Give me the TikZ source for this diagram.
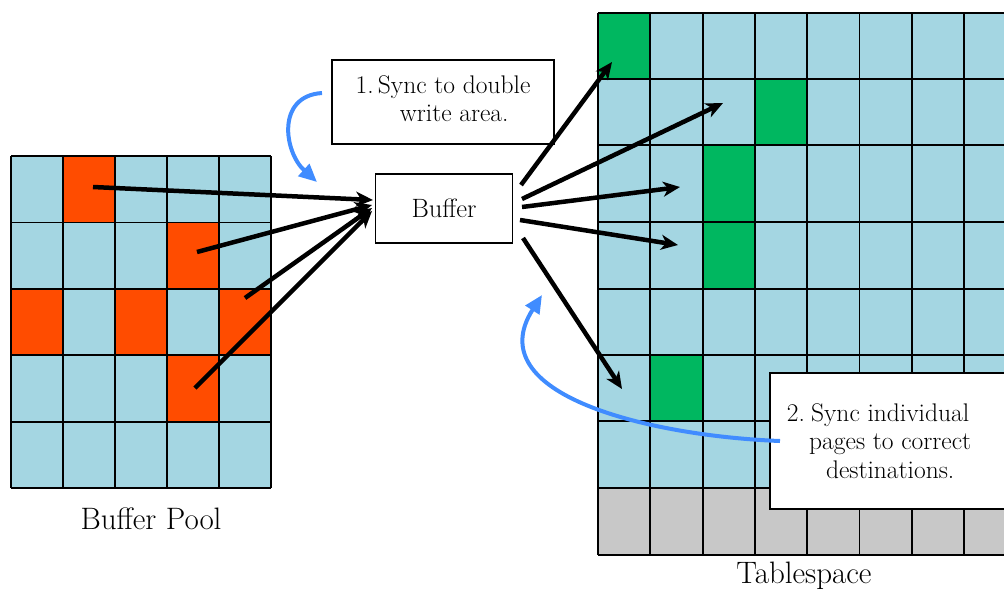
\documentclass[tikz,border=0pt]{standalone}
\usepackage{fontspec}
\usetikzlibrary{arrows.meta}
\definecolor{cellblue}{RGB}{164,214,226}
\definecolor{cellorange}{RGB}{255,76,0}
\definecolor{cellgreen}{RGB}{0,183,96}
\definecolor{cellgray}{RGB}{200,200,200}
\definecolor{curveblue}{RGB}{64,140,255}
\begin{document}
\begin{tikzpicture}[x=1pt,y=-1pt,
  gridline/.style={black,line width=1.8pt},
  blk/.style={line width=4.5pt,-{Stealth[length=17pt,width=15pt,inset=5pt]}},
  blu/.style={draw=curveblue,line width=4pt,-{Triangle[length=18pt,width=16pt]}},
  callout/.style={draw=black,line width=1.2pt,fill=white,inner sep=0pt},
  boxtext/.style={font=\fontsize{25.5}{28.5}\selectfont},
  labeltext/.style={font=\fontsize{31}{36}\selectfont}]
\useasboundingbox (0,0) rectangle (1004,590);
% Buffer pool grid
\fill[cellblue] (11,156) rectangle (271,488);
\foreach \c/\r in {1/0,3/1,0/2,2/2,4/2,3/3}
  \fill[cellorange] ({11+52*\c},{156+66.4*\r}) rectangle ++(52,66.4);
\foreach \i in {0,...,5} \draw[gridline] ({11+52*\i},156) -- ({11+52*\i},488);
\foreach \j in {0,...,5} \draw[gridline] (11,{156+66.4*\j}) -- (271,{156+66.4*\j});
\node[labeltext] (bplabel) at (151,519) {Buffer Pool};
% Tablespace grid
\fill[cellblue] (598,13) rectangle (1016,488);
\fill[cellgray] (598,488) rectangle (1016,555);
\fill[cellgreen] (598,13) rectangle (650.5,79);
\fill[cellgreen] (755,79) rectangle (807,145);
\fill[cellgreen] (702.5,145) rectangle (755,289);
\fill[cellgreen] (650.5,355) rectangle (702.5,421);
\foreach \i in {0,...,8} \draw[gridline] ({598+52.3*\i},13) -- ({598+52.3*\i},555);
\foreach \y in {13,79,145,222,289,355,421,488,555} \draw[gridline] (598,\y) -- (1016,\y);
\node[labeltext] (tslabel) at (804,576) {Tablespace};
% Buffer
\node[callout,boxtext,minimum width=137pt,minimum height=69pt,font=\fontsize{26.5}{30}\selectfont] (buf) at (444,208.5) {Buffer};
% Note 1
\node[callout,boxtext,minimum width=222pt,minimum height=84pt] (note1) at (443,102)
  {\begin{tabular}{@{}r@{\,}c@{}}1. & Sync to double\\ & write area.\end{tabular}};
% Note 2
\draw[callout] (770,373) rectangle (1020,509);
\node[boxtext,inner sep=0pt] (note2) at (879,444)
  {\begin{tabular}{@{}r@{\,}c@{}}2. & Sync individual\\ & pages to correct\\ & destinations.\end{tabular}};
% coordinates for arrows
\coordinate (s1) at (93,187);  \coordinate (e1) at (373,200);
\coordinate (s2) at (197,252); \coordinate (e2) at (372,205);
\coordinate (s3) at (245,298); \coordinate (e3) at (372,208);
\coordinate (s4) at (195,388); \coordinate (e4) at (372,211);
\draw[blk] (s1) -- (e1);
\draw[blk] (s2) -- (e2);
\draw[blk] (s3) -- (e3);
\draw[blk] (s4) -- (e4);
\coordinate (r1) at (521,185); \coordinate (t1) at (612,62);
\coordinate (r2) at (522,199); \coordinate (t2) at (723,103);
\coordinate (r3) at (522,207); \coordinate (t3) at (680,187);
\coordinate (r4) at (520,220); \coordinate (t4) at (678,245);
\coordinate (r5) at (523,238); \coordinate (t5) at (622,389);
\draw[blk] (r1) -- (t1);
\draw[blk] (r2) -- (t2);
\draw[blk] (r3) -- (t3);
\draw[blk] (r4) -- (t4);
\draw[blk] (r5) -- (t5);
% blue curves
\coordinate (c1s) at (322,93); \coordinate (c1e) at (317,182);
\draw[blu] (c1s) .. controls (276,96) and (284,152) .. (c1e);
\coordinate (c2s) at (780,441); \coordinate (c2e) at (542,295);
\draw[blu] (c2s) .. controls (650,436) and (478,395) .. (c2e);
\end{tikzpicture}
\end{document}
